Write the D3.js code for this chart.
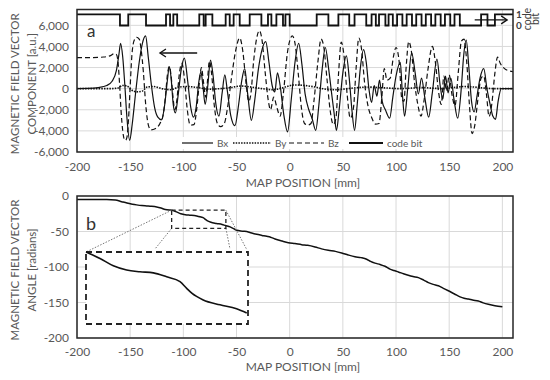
<!DOCTYPE html>
<html>
<head>
<meta charset="utf-8">
<script src="https://cdn.jsdelivr.net/npm/d3@7"></script>
<style>
body { margin: 0; background: #fff; }
text { font-family: Lato, "Open Sans", sans-serif; fill: #595959; }
</style>
</head>
<body>
<svg id="chart" width="550" height="380"></svg>
<script>
// ---- data ----
// map position [mm] vs field component [a.u.]
var bx = [[-200,0],[-190,20],[-180,100],[-172,300],[-167,700],[-163,1700],[-160.5,3300],[-159,4300],[-157,3000],[-155,300],[-153,-2800],[-150.5,-4900],[-148,-3300],[-145,-500],[-141.5,2500],[-138.5,4300],[-135.5,5000],[-133,3000],[-130,300],[-127,-1800],[-124,-2700],[-120.5,-2950],[-117.5,-1500],[-115,800],[-113.2,2100],[-111.5,1000],[-109.5,-1500],[-107.5,-2300],[-105,-700],[-102,1800],[-99,2900],[-96,800],[-93,-1800],[-90.5,-2700],[-88,-1800],[-85.5,600],[-83.5,1600],[-81.5,200],[-79.5,-1500],[-77,300],[-74.5,2700],[-72,1200],[-69.5,-1400],[-66.5,-2600],[-63.5,-400],[-61,1300],[-58.5,-300],[-55.5,-2500],[-51.5,-3500],[-48,-1500],[-45,800],[-42.3,1900],[-39.5,-500],[-36,-3000],[-33,-1200],[-29.5,1800],[-26,3700],[-22.5,4450],[-19.5,2500],[-16.5,300],[-14,-300],[-11.5,1500],[-9,300],[-5.5,-2500],[-2,-4100],[1.5,-1000],[5,2500],[8.5,4300],[11.5,2300],[14.5,-500],[18,-2000],[21,-2800],[24.5,-3950],[27.5,-1500],[30.5,1800],[33.5,3900],[36.5,2000],[39.5,-500],[42,-2500],[44,-3950],[46.5,-2000],[50,1500],[53.3,3100],[56,1000],[58.5,-2000],[61,-3950],[63.5,-1500],[66.5,2000],[69.5,3700],[72,2500],[74.5,0],[77,-1300],[79.5,300],[82,-700],[84.5,800],[87,-1200],[90,-2000],[94,-2800],[97,-800],[100,1200],[104,2500],[106,-500],[108,-2600],[111,0],[114.7,3400],[118,1500],[121,-500],[124,1000],[127,-800],[130.7,-2700],[134,-500],[138.5,2800],[141.5,300],[144,-1000],[146.5,1200],[149,-400],[151.5,1000],[154.5,-1000],[158,-2800],[161.5,200],[163.5,3000],[166,4600],[168.5,2000],[171,-1200],[173.5,-2200],[176,-800],[179,1000],[182.5,1900],[185.5,0],[188.5,-1500],[191,-2600],[193.6,-2900],[196,-1200],[199,0],[210,0]];

var by = [[-200,0],[-170,0],[-162,50],[-157,300],[-153,250],[-149,-100],[-144,-300],[-139,-250],[-134,150],[-128,200],[-120,0],[-112,-100],[-104,150],[-96,200],[-86,100],[-76,-50],[-66,0],[-56,100],[-46,250],[-36,150],[-26,0],[-16,-100],[-6,100],[4,350],[14,300],[24,150],[34,-50],[44,-100],[54,0],[64,100],[74,150],[84,100],[94,50],[104,0],[114,50],[124,100],[134,50],[144,0],[154,100],[164,200],[174,150],[184,50],[194,0],[210,0]];

var bz = [[-200,2950],[-185,2950],[-175,3000],[-168,3150],[-165,3330],[-163,3250],[-161.5,2600],[-160,500],[-158.5,-2200],[-157,-4000],[-155.5,-4800],[-154.3,-4900],[-153,-4600],[-151.5,-2800],[-150,200],[-148.5,3000],[-146.5,4500],[-144,4870],[-141.5,4700],[-139.8,3800],[-137.6,1600],[-135.4,-1500],[-133,-3400],[-130.5,-3900],[-126.5,-3800],[-122,-3300],[-119,-2500],[-117,-900],[-115,1300],[-113.2,2100],[-111.6,1300],[-110,-500],[-108,-2000],[-106,-1000],[-104,1200],[-101.5,2400],[-99,1000],[-96.5,-1800],[-93.5,-3450],[-90,-3400],[-87.5,-2000],[-85,500],[-83,2000],[-81,600],[-79,-800],[-77.5,500],[-75.5,2600],[-73.5,1500],[-71,-1500],[-68,-3300],[-65,-3600],[-61.5,-3300],[-58,-1500],[-55,800],[-51,3500],[-47,4800],[-44,3500],[-41,500],[-38.5,-1200],[-36.5,-500],[-34,2500],[-31,4800],[-28.5,5500],[-26,4600],[-23,1500],[-20,-1200],[-18,-2000],[-15,-800],[-12,-1800],[-9,-2600],[-6,-500],[-2,3500],[2.5,5000],[5,4300],[8,1500],[11,-1800],[14,-3300],[17,-3450],[20,-3300],[23,-1000],[26.5,2500],[29.5,4700],[32,4000],[35,1000],[38,-2000],[41,-3400],[43.5,-2800],[46,1500],[48.5,4400],[51,3200],[54,-500],[57,-2800],[60,-1800],[62.5,2000],[65,4800],[67.5,3800],[70.5,500],[74,-1800],[77,-2700],[80.5,-3350],[84,-3300],[86.5,-1000],[89,1900],[91.5,800],[94.5,1000],[97.5,3000],[100,3900],[103,2500],[105.5,-1000],[107.5,-1200],[109.5,2000],[112,4450],[114.5,3500],[117.5,500],[120.5,-1500],[123.5,-2600],[126.5,-1000],[130,1800],[134.2,4000],[137,2500],[140,-300],[142.5,-1500],[145,1200],[147.5,-200],[150,1300],[152.5,-500],[155.5,-1600],[158.5,1500],[161.5,4500],[164,4700],[166.5,2500],[169,-1500],[171.5,-4250],[174,-3500],[177,-1000],[180,1000],[182.5,1200],[185,-500],[187.5,-2650],[190,-1500],[193,1500],[195.5,3000],[198,2400],[202,1900],[206,1700],[210,1600]];

// code bit: position where each level starts, and the level
var codeEdges = [-200,-159.6,-151.8,-135.1,-116.3,-112.5,-109.4,-105.8,-85,-80.9,-79,-72.7,-60.2,-56.4,-52.7,-47,-37.6,-26.6,-20.4,-17.2,-12.5,-6.3,-4,0,25.4,36.4,45.8,56,61,72,77,81,84,90,93,97,101,106,110,115,119,124,128,133,137,142,146,151,155,160,180,186,193,210];
var codeBits  = [1,0,1,0,1,0,1,0,1,0,1,0,1,0,1,0,1,0,1,0,1,0,1,0,1,0,1,0,1,0,1,0,1,0,1,0,1,0,1,0,1,0,1,0,1,0,1,0,1,0,1,0,1,1];

// map position [mm] vs angle [radians]
var angle = [[-200,-5],[-185,-5],[-172,-5],[-164,-5.5],[-158,-8],[-153,-10],[-148,-11.5],[-144,-12.5],[-139,-13.5],[-134.5,-14],[-130,-14.5],[-125,-15.5],[-121,-17],[-117,-19],[-113,-19.8],[-111,-20],[-106.6,-22.3],[-102.4,-24.9],[-98.2,-26.4],[-94,-27],[-89.8,-27.4],[-85.6,-28.8],[-81.4,-30.5],[-79.3,-32.9],[-77.7,-34.6],[-74.1,-37],[-68.8,-38.7],[-63.6,-40.1],[-60.4,-41.6],[-56,-43.5],[-52,-46.5],[-49.8,-48.3],[-44,-49.5],[-39,-50.6],[-35,-52.5],[-31,-54],[-26,-55.5],[-21.6,-56.8],[-18,-58],[-13.8,-60.5],[-7,-63.5],[-1.3,-65.7],[5,-67],[11.3,-68.5],[17,-69.5],[23.8,-71.8],[30,-74.5],[36.3,-76.5],[43,-78],[48.9,-80.2],[55,-83],[61.4,-85.5],[67,-86.8],[72.4,-89],[76,-92],[80.2,-94.5],[85,-96.5],[89.6,-99],[94.3,-103],[98,-105],[102.2,-107],[107,-109.5],[111.5,-111.7],[116,-113.5],[121,-115],[126,-118.5],[130.4,-122],[135,-124.5],[139.8,-126.5],[144.5,-130],[149.2,-133.5],[155,-138],[160.2,-142],[164,-144],[168,-145],[172,-146.5],[177.4,-148],[182,-150.5],[186.8,-152.5],[193,-154.5],[200,-156]];

// zoomed window of panel b (mm, radians)
var zoomX = [-111, -60];
var zoomY = [-20, -45.5];

var xTicks = [-200,-150,-100,-50,0,50,100,150,200];
var yTicksA = [-6000,-4000,-2000,0,2000,4000,6000];
var yTicksB = [-200,-150,-100,-50,0];
var legendNames = ["Bx","By","Bz","code bit"];

// ---- chart ----
var svg = d3.select("#chart");
var fmt = function(d) { return d3.format(",")(d).replace("\u2212","-"); };

var plotL = 77, plotR = 513;

function panel(top, bottom, ydom, yticks, title1, title2, tickPad) {
  var x = d3.scaleLinear().domain([-200,210]).range([plotL, plotR]);
  var y = d3.scaleLinear().domain(ydom).range([bottom, top]);
  var g = svg.append("g");

  // gridlines
  g.selectAll(".hg").data(yticks).enter().append("line")
    .attr("x1", plotL).attr("x2", plotR)
    .attr("y1", function(d) { return y(d); }).attr("y2", function(d) { return y(d); })
    .style("stroke", "#d9d9d9").style("stroke-width", 1);
  g.selectAll(".vg").data(xTicks).enter().append("line")
    .attr("y1", top).attr("y2", bottom)
    .attr("x1", function(d) { return x(d); }).attr("x2", function(d) { return x(d); })
    .style("stroke", "#d9d9d9").style("stroke-width", 1);

  // axes
  var ax = g.append("g").attr("transform", "translate(0," + bottom + ")")
    .call(d3.axisBottom(x).tickValues(xTicks).tickSize(0).tickPadding(tickPad).tickFormat(fmt));
  ax.select(".domain").remove();
  ax.selectAll("text").style("font-size", "12px").style("fill", "#595959").style("font-family", "Lato");

  var ay = g.append("g").attr("transform", "translate(" + (plotL - 8) + ",0)")
    .call(d3.axisLeft(y).tickValues(yticks).tickSize(0).tickPadding(0).tickFormat(fmt));
  ay.select(".domain").remove();
  ay.selectAll("text").style("font-size", "12px").style("fill", "#595959").style("font-family", "Lato");

  // y title
  var cy = (top + bottom) / 2 + 3;
  g.append("text").attr("transform", "translate(19," + cy + ") rotate(-90)")
    .attr("text-anchor", "middle").style("font-size", "11.5px").text(title1);
  g.append("text").attr("transform", "translate(36," + cy + ") rotate(-90)")
    .attr("text-anchor", "middle").style("font-size", "11.5px").text(title2);

  return {x: x, y: y, g: g, top: top, bottom: bottom};
}

// ---------- panel a ----------
var A = panel(9.5, 152, [-6000, 7500], yTicksA, "MAGNETIC FIELD VECTOR", "COMPONENT [a.u.]", 10.5);
var yBit = d3.scaleLinear().domain([0, 1]).range([25.5, 14.3]);

var lineA = d3.line().x(function(d) { return A.x(d[0]); }).y(function(d) { return A.y(d[1]); })
  .curve(d3.curveMonotoneX);

A.g.append("path").datum(by).attr("d", lineA)
  .style("fill", "none").style("stroke", "#111").style("stroke-width", 1.6).style("stroke-dasharray", "1.5,1.2");
A.g.append("path").datum(bz).attr("d", lineA)
  .style("fill", "none").style("stroke", "#111").style("stroke-width", 1.2).style("stroke-dasharray", "5,3");
A.g.append("path").datum(bx).attr("d", lineA)
  .style("fill", "none").style("stroke", "#111").style("stroke-width", 1.2);

var codePts = codeEdges.map(function(e, i) { return [e, codeBits[i]]; });
A.g.append("path").datum(codePts)
  .attr("d", d3.line().x(function(d) { return A.x(d[0]); }).y(function(d) { return yBit(d[1]); }).curve(d3.curveStepAfter))
  .style("fill", "none").style("stroke", "#111").style("stroke-width", 1.8);

// arrows
function arrow(g, x1, y1, x2, y2) {
  g.append("line").attr("x1", x1).attr("y1", y1).attr("x2", x2).attr("y2", y2)
    .style("stroke", "#111").style("stroke-width", 1.3);
  var dir = x2 > x1 ? -1 : 1;
  g.append("path").attr("d", "M" + (x2 + dir * 6) + "," + (y2 - 4) + "L" + x2 + "," + y2 + "L" + (x2 + dir * 6) + "," + (y2 + 4))
    .style("fill", "none").style("stroke", "#111").style("stroke-width", 1.3);
}
arrow(A.g, A.x(-87), A.y(3380), A.x(-122), A.y(3380));
arrow(A.g, A.x(174), yBit(0.5), A.x(204.5), yBit(0.5));

// legend
var leg = A.g.append("g").attr("transform", "translate(0,143)");
leg.append("rect").attr("x", 178).attr("y", -6).attr("width", 252).attr("height", 12).style("fill", "#fff");
var legX = [182, 233, 289, 349];
var legLen = [31, 38, 35, 34];
var legDash = [null, "1.5,1.2", "5,3", null];
var legW = [1.2, 1.6, 1.2, 1.8];
legendNames.forEach(function(n, i) {
  var l = leg.append("line").attr("x1", legX[i]).attr("x2", legX[i] + legLen[i]).attr("y1", 0).attr("y2", 0)
    .style("stroke", "#111").style("stroke-width", legW[i]);
  if (legDash[i]) l.style("stroke-dasharray", legDash[i]);
  leg.append("text").attr("x", legX[i] + legLen[i] + 4).attr("y", 3.5).style("font-size", "10px").text(n);
});

// frame
A.g.append("rect").attr("x", plotL).attr("y", A.top).attr("width", plotR - plotL).attr("height", A.bottom - A.top)
  .style("fill", "none").style("stroke", "#262626").style("stroke-width", 1.5);

// secondary axis labels
A.g.selectAll(".bit").data([1, 0]).enter().append("text")
  .attr("x", 519).attr("y", function(d) { return yBit(d) + 3.5; })
  .attr("text-anchor", "middle").style("font-size", "10px").style("fill", "#404040").style("font-weight", "bold")
  .text(function(d) { return d; });
A.g.append("text").attr("transform", "translate(531,19) rotate(-90)").attr("text-anchor", "middle")
  .style("font-size", "10.5px").style("fill", "#404040").text("code");
A.g.append("text").attr("transform", "translate(539,19) rotate(-90)").attr("text-anchor", "middle")
  .style("font-size", "10.5px").style("fill", "#404040").text("bit");

A.g.append("text").attr("x", 87).attr("y", 37).style("font-size", "17px").style("fill", "#333").text("a");

svg.append("text").attr("x", 303).attr("y", 186.5).attr("text-anchor", "middle")
  .style("font-size", "12px").text("MAP POSITION [mm]");

// ---------- panel b ----------
var B = panel(196, 338, [-200, 0], yTicksB, "MAGNETIC FIELD VECTOR", "ANGLE [radians]", 9.5);

var lineB = d3.line().x(function(d) { return B.x(d[0]); }).y(function(d) { return B.y(d[1]); })
  .curve(d3.curveMonotoneX);
B.g.append("path").datum(angle).attr("d", lineB)
  .style("fill", "none").style("stroke", "#111").style("stroke-width", 1.5);

B.g.append("rect").attr("x", plotL).attr("y", B.top).attr("width", plotR - plotL).attr("height", B.bottom - B.top)
  .style("fill", "none").style("stroke", "#262626").style("stroke-width", 1.5);

B.g.append("text").attr("x", 86).attr("y", 230).style("font-size", "18px").style("fill", "#333").text("b");

// zoom window and inset
var zx0 = B.x(zoomX[0]), zx1 = B.x(zoomX[1]), zy0 = B.y(zoomY[0]), zy1 = B.y(zoomY[1]);
var ix = d3.scaleLinear().domain(zoomX).range([86, 248]);
var iy = d3.scaleLinear().domain(zoomY).range([252, 324]);

var conn = [[zx0, zy0, 86, 252], [zx0, zy1, 155, 249], [zx1, zy1, 230, 249], [zx1, zy0, 247, 250]];
B.g.selectAll(".conn").data(conn).enter().append("line")
  .attr("x1", function(d) { return d[0]; }).attr("y1", function(d) { return d[1]; })
  .attr("x2", function(d) { return d[2]; }).attr("y2", function(d) { return d[3]; })
  .style("stroke", "#777").style("stroke-width", 1).style("stroke-dasharray", "1.5,1.5");

B.g.append("rect").attr("x", zx0).attr("y", zy0).attr("width", zx1 - zx0).attr("height", zy1 - zy0)
  .style("fill", "none").style("stroke", "#222").style("stroke-width", 1.3).style("stroke-dasharray", "4,3");

B.g.append("rect").attr("x", 86).attr("y", 252).attr("width", 162).attr("height", 72)
  .style("fill", "#fff").style("stroke", "#222").style("stroke-width", 1.8).style("stroke-dasharray", "6,4");

var inset = angle.filter(function(d) { return d[0] >= zoomX[0] && d[0] <= zoomX[1]; });
B.g.append("path").datum(inset)
  .attr("d", d3.line().x(function(d) { return ix(d[0]); }).y(function(d) { return iy(d[1]); }).curve(d3.curveMonotoneX))
  .style("fill", "none").style("stroke", "#111").style("stroke-width", 1.6);

svg.append("text").attr("x", 303).attr("y", 371).attr("text-anchor", "middle")
  .style("font-size", "12px").text("MAP POSITION [mm]");
</script>
</body>
</html>
